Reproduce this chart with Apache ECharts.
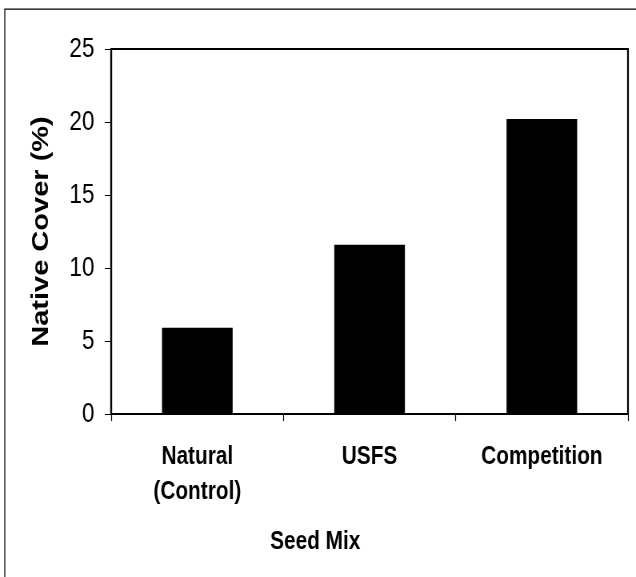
<!DOCTYPE html>
<html>
<head>
<meta charset="utf-8">
<script src="https://cdn.jsdelivr.net/npm/echarts@6/dist/echarts.min.js"></script>
<style>
html,body{margin:0;padding:0;background:#fff;overflow:hidden;}
#wrap{width:636px;height:577px;overflow:hidden;}
/* the reference is horizontally compressed (~0.8); draw at 795px and squeeze */
#chart{width:795px;height:577px;transform:scaleX(0.8);transform-origin:0 0;}
</style>
</head>
<body>
<div id="wrap"><div id="chart"></div></div>
<script>
const categories = ['Natural\n(Control)', 'USFS', 'Competition'];
const nativeCover = [5.9, 11.6, 20.2];
const yTicks = [0, 5, 10, 15, 20, 25];
const yAxisTitle = 'Native Cover (%)';
const xAxisTitle = 'Seed Mix';

const FONT = '"Liberation Sans", Arial, sans-serif';

const chart = echarts.init(document.getElementById('chart'), null, {renderer: 'canvas'});
chart.setOption({
  backgroundColor: '#fff',
  animation: false,
  grid: {left: 139, top: 49, right: 10, bottom: 163, show: true, borderColor: '#000', borderWidth: 2.2, backgroundColor: 'transparent'},
  xAxis: {
    type: 'category',
    data: categories,
    axisLine: {show: true, lineStyle: {color: '#000', width: 2.2}},
    axisTick: {show: true, inside: false, length: 7, alignWithLabel: false, lineStyle: {color: '#000', width: 1.2}},
    axisLabel: {
      color: '#000', fontFamily: FONT, fontWeight: 'bold',
      fontSize: 26, lineHeight: 35, margin: 25, interval: 0
    },
    splitLine: {show: false}
  },
  yAxis: {
    type: 'value', min: yTicks[0], max: yTicks[yTicks.length - 1], interval: yTicks[1] - yTicks[0],
    name: yAxisTitle, nameLocation: 'middle', nameRotate: 90, nameGap: 73,
    nameTextStyle: {color: '#000', fontFamily: FONT, fontWeight: 'bold', fontSize: 29},
    axisLine: {show: true, lineStyle: {color: '#000', width: 2.2}},
    axisTick: {show: true, inside: false, length: 8, lineStyle: {color: '#000', width: 1}},
    axisLabel: {color: '#000', fontFamily: FONT, fontSize: 28, margin: 21},
    splitLine: {show: false}
  },
  series: [{
    type: 'bar',
    data: nativeCover,
    barWidth: '41%',
    itemStyle: {color: '#000'},
    silent: true
  }],
  graphic: [
    {type: 'rect', shape: {x: 6, y: 9, width: 900, height: 700}, style: {fill: 'none', stroke: '#000', lineWidth: 1.25}, z: -1, silent: true},
    {type: 'text', x: 394, y: 542, style: {text: xAxisTitle, fill: '#000', font: 'bold 26px ' + FONT, textAlign: 'center', textVerticalAlign: 'middle'}}
  ]
});
</script>
</body>
</html>
